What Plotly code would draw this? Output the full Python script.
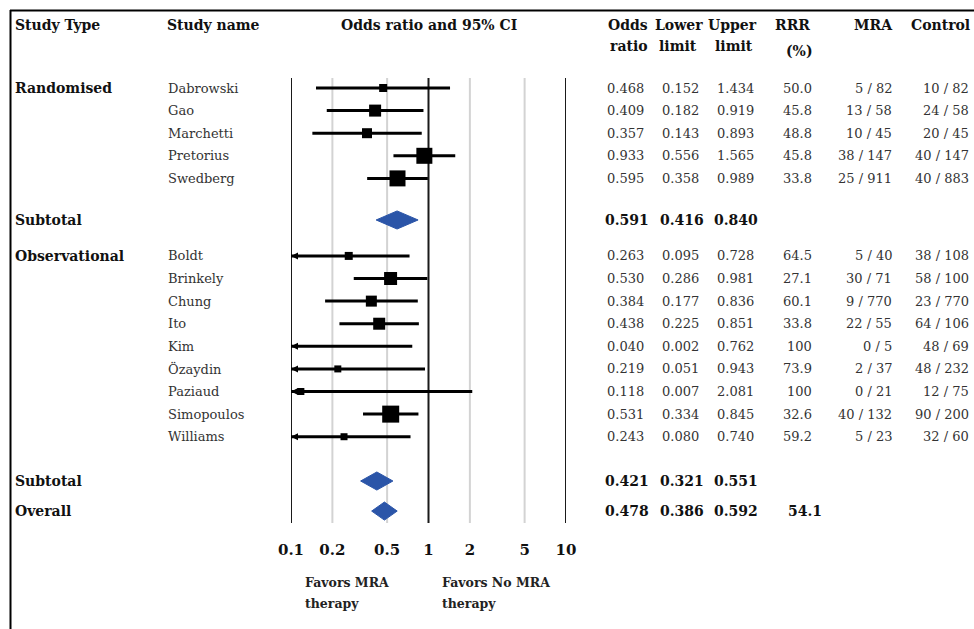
import plotly.graph_objects as go

# ---------------- data ----------------
rand_names = ["Dabrowski", "Gao", "Marchetti", "Pretorius", "Swedberg"]
rand_or = [0.468, 0.409, 0.357, 0.933, 0.595]
rand_lo = [0.152, 0.182, 0.143, 0.556, 0.358]
rand_hi = [1.434, 0.919, 0.893, 1.565, 0.989]
rand_rrr = ["50.0", "45.8", "48.8", "45.8", "33.8"]
rand_mra = ["5 / 82", "13 / 58", "10 / 45", "38 / 147", "25 / 911"]
rand_ctl = ["10 / 82", "24 / 58", "20 / 45", "40 / 147", "40 / 883"]

obs_names = ["Boldt", "Brinkely", "Chung", "Ito", "Kim", "Özaydin", "Paziaud", "Simopoulos", "Williams"]
obs_or = [0.263, 0.530, 0.384, 0.438, 0.040, 0.219, 0.118, 0.531, 0.243]
obs_lo = [0.095, 0.286, 0.177, 0.225, 0.002, 0.051, 0.007, 0.334, 0.080]
obs_hi = [0.728, 0.981, 0.836, 0.851, 0.762, 0.943, 2.081, 0.845, 0.740]
obs_rrr = ["64.5", "27.1", "60.1", "33.8", "100", "73.9", "100", "32.6", "59.2"]
obs_mra = ["5 / 40", "30 / 71", "9 / 770", "22 / 55", "0 / 5", "2 / 37", "0 / 21", "40 / 132", "5 / 23"]
obs_ctl = ["38 / 108", "58 / 100", "23 / 770", "64 / 106", "48 / 69", "48 / 232", "12 / 75", "90 / 200", "32 / 60"]

subtotal_rand = [0.591, 0.416, 0.840]
subtotal_obs = [0.421, 0.321, 0.551]
overall = [0.478, 0.386, 0.592]
overall_rrr = "54.1"

tick_vals = [0.1, 0.2, 0.5, 1, 2, 5, 10]
tick_text = ["0.1", "0.2", "0.5", "1", "2", "5", "10"]

# ---------------- style / layout ----------------
W, H = 974, 629
FONT = "DejaVu Serif"
TXT = "#333333"
BOLD = "#111111"
BLUE = "#2b55a8"
rand_box = [8, 12, 10, 16, 16]
obs_box = [8, 13, 11, 12, 6, 7, 7, 17, 7]

# row positions (row units)
y_rand = [float(i) for i in range(len(rand_names))]
y_sub1 = 5.84
y_obs = [7.43 + i for i in range(len(obs_names))]
y_sub2 = 17.39
y_all = 18.72
PX0, UNIT = 88.0, 22.6          # pixel of row 0 and pixels per row unit
def yu(px):
    return (px - PX0) / UNIT
def xp(px):
    return px / W

fig = go.Figure()

# vertical reference lines
grid_top, grid_bot = yu(78), yu(523)
for v in tick_vals:
    dark = v in (0.1, 1, 10)
    fig.add_trace(go.Scatter(x=[v, v], y=[grid_top, grid_bot], mode="lines",
                             line=dict(color="#1a1a1a" if dark else "#d3d3d3", width=2),
                             hoverinfo="skip", cliponaxis=False))

# CI lines
all_lo = rand_lo + obs_lo
all_hi = rand_hi + obs_hi
all_or = rand_or + obs_or
all_y = y_rand + y_obs
all_box = rand_box + obs_box
lx, ly = [], []
for lo, hi, y in zip(all_lo, all_hi, all_y):
    lx += [lo, hi, None]
    ly += [y, y, None]
fig.add_trace(go.Scatter(x=lx, y=ly, mode="lines", line=dict(color="black", width=3),
                         hoverinfo="skip"))
# boxes
fig.add_trace(go.Scatter(x=all_or, y=all_y, mode="markers",
                         marker=dict(symbol="square", size=all_box, color="black", opacity=1,
                                     line=dict(width=0)),
                         hoverinfo="skip"))
# arrows for truncated CIs
ax_, ay_ = [], []
for lo, y in zip(all_lo, all_y):
    if lo < 0.1:
        ax_.append(0.1)
        ay_.append(y)
fig.add_trace(go.Scatter(x=ax_, y=ay_, mode="markers", cliponaxis=False,
                         marker=dict(symbol="arrow-left", size=7, color="black", opacity=1),
                         hoverinfo="skip"))

# diamonds
DH = 0.4
for (o, lo, hi), y in [(subtotal_rand, y_sub1), (subtotal_obs, y_sub2), (overall, y_all)]:
    fig.add_trace(go.Scatter(x=[lo, o, hi, o, lo], y=[y, y - DH, y, y + DH, y],
                             mode="lines", fill="toself", fillcolor=BLUE,
                             line=dict(color=BLUE, width=1), hoverinfo="skip"))

ann = []
def txt(px, y, s, anchor="left", bold=False, size=13, color=None):
    ann.append(dict(x=xp(px), xref="paper", y=y, yref="y", text=("<b>%s</b>" % s) if bold else s,
                    showarrow=False, xanchor=anchor, yanchor="middle", borderpad=0,
                    font=dict(family=FONT, size=size, color=color or (BOLD if bold else TXT))))

HB = 14  # bold header size
# headers
h1, h2 = yu(25), yu(46)
txt(14, h1, "Study Type", bold=True, size=HB)
txt(166, h1, "Study name", bold=True, size=HB)
txt(429, h1, "Odds ratio and 95% CI", anchor="center", bold=True, size=HB)
txt(628, h1, "Odds", anchor="center", bold=True, size=HB)
txt(629, h2, "ratio", anchor="center", bold=True, size=HB)
txt(679, h1, "Lower", anchor="center", bold=True, size=HB)
txt(678, h2, "limit", anchor="center", bold=True, size=HB)
txt(732, h1, "Upper", anchor="center", bold=True, size=HB)
txt(734, h2, "limit", anchor="center", bold=True, size=HB)
txt(811, h1, "RRR", anchor="right", bold=True, size=HB)
txt(814, yu(51), "(%)", anchor="right", bold=True, size=HB)
txt(894, h1, "MRA", anchor="right", bold=True, size=HB)
txt(971, h1, "Control", anchor="right", bold=True, size=HB)

# group labels
txt(14, y_rand[0], "Randomised", bold=True, size=HB)
txt(14, y_sub1, "Subtotal", bold=True, size=HB)
txt(14, y_obs[0], "Observational", bold=True, size=HB)
txt(14, y_sub2, "Subtotal", bold=True, size=HB)
txt(14, y_all, "Overall", bold=True, size=HB)

def row(y, name, o, lo, hi, rrr, mra, ctl, bold=False):
    if name:
        txt(167, y, name)
    if bold:
        txt(627, y, "%.3f" % o, anchor="center", bold=True, size=14)
        txt(682, y, "%.3f" % lo, anchor="center", bold=True, size=14)
        txt(736, y, "%.3f" % hi, anchor="center", bold=True, size=14)
        if rrr:
            txt(823, y, rrr, anchor="right", bold=True, size=14)
    else:
        txt(625, y, "%.3f" % o, anchor="center")
        txt(680, y, "%.3f" % lo, anchor="center")
        txt(735, y, "%.3f" % hi, anchor="center")
        if rrr:
            txt(813, y, rrr, anchor="right")
    if mra:
        txt(893, y, mra, anchor="right")
    if ctl:
        txt(970, y, ctl, anchor="right")

for i in range(len(rand_names)):
    row(y_rand[i], rand_names[i], rand_or[i], rand_lo[i], rand_hi[i], rand_rrr[i], rand_mra[i], rand_ctl[i])
row(y_sub1, None, *subtotal_rand, None, None, None, bold=True)
for i in range(len(obs_names)):
    row(y_obs[i], obs_names[i], obs_or[i], obs_lo[i], obs_hi[i], obs_rrr[i], obs_mra[i], obs_ctl[i])
row(y_sub2, None, *subtotal_obs, None, None, None, bold=True)
row(y_all, None, *overall, overall_rrr, None, None, bold=True)

# favors labels
txt(304, yu(582), "Favors MRA", bold=True, size=12.5, color="#222222")
txt(304, yu(603), "therapy", bold=True, size=12.5, color="#222222")
txt(441, yu(582), "Favors No MRA", bold=True, size=12.5, color="#222222")
txt(441, yu(603), "therapy", bold=True, size=12.5, color="#222222")

# frame lines
shapes = [
    dict(type="line", xref="paper", yref="paper", x0=xp(10), x1=1, y0=1 - 10.5 / H, y1=1 - 10.5 / H,
         line=dict(color="black", width=2)),
    dict(type="line", xref="paper", yref="paper", x0=xp(10.5), x1=xp(10.5), y0=0, y1=1 - 10 / H,
         line=dict(color="black", width=2)),
]

fig.update_layout(
    width=W, height=H, autosize=False,
    margin=dict(l=0, r=0, t=0, b=0, pad=0, autoexpand=False),
    paper_bgcolor="white", plot_bgcolor="white", showlegend=False,
    annotations=ann, shapes=shapes,
    xaxis=dict(type="log", range=[-1, 1], domain=[xp(291), xp(566)],
               anchor="free", position=(H - 539) / H, automargin=False,
               tickvals=tick_vals, ticktext=tick_text, ticks="",
               showgrid=False, zeroline=False, showline=False,
               tickfont=dict(family=FONT, size=15, color=BOLD, weight="bold"),
               fixedrange=True),
    yaxis=dict(range=[yu(H), yu(0)], domain=[0, 1], visible=False, fixedrange=True,
               automargin=False),
)

fig.write_html("out.html")
